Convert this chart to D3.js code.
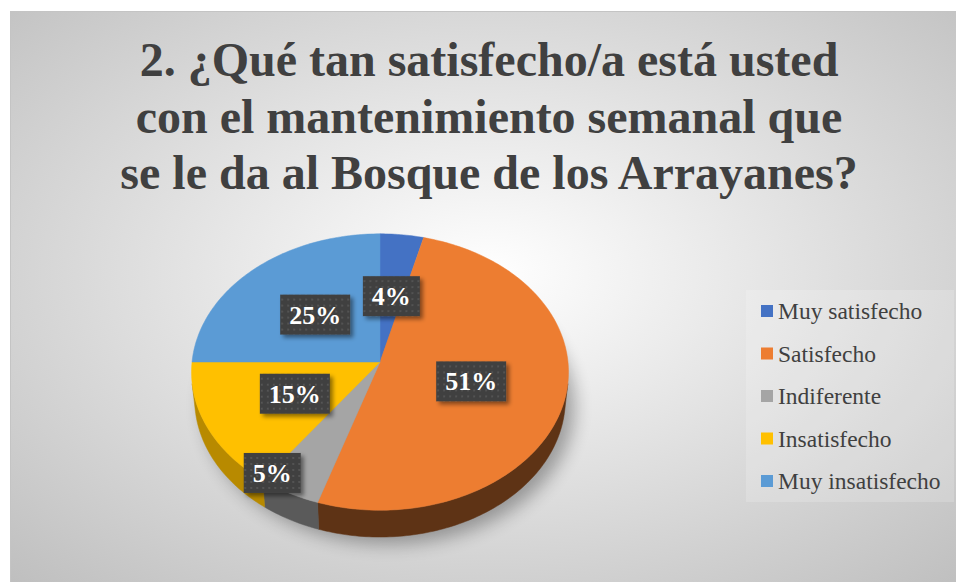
<!DOCTYPE html>
<html lang="es">
<head>
<meta charset="UTF-8">
<title>Mantenimiento semanal - Bosque de los Arrayanes</title>
<script src="https://d3js.org/d3.v7.min.js"></script>
<style>
  body { margin: 0; background: #fff; }
  svg { display: block; }
</style>
</head>
<body>
<svg width="956" height="582"></svg>
<script>
// data
const categories = ["Muy satisfecho", "Satisfecho", "Indiferente", "Insatisfecho", "Muy insatisfecho"];
const values = [4, 51, 5, 15, 25];
const titleLines = [
  "2. ¿Qué tan satisfecho/a está usted",
  "con el mantenimiento semanal que",
  "se le da al Bosque de los Arrayanes?"
];
const topColors = ["#4472c4", "#ed7d31", "#a5a5a5", "#ffc000", "#5b9bd5"];
const sideColors = ["#263f6b", "#5e3315", "#5a5a5a", "#b88a00", "#335a7c"];

const svg = d3.select("svg");
const width = +svg.attr("width");
const height = +svg.attr("height");
const defs = svg.append("defs");
const serif = "'Liberation Serif', 'Times New Roman', serif";

// background: radial grey gradient + thin border
const bg = defs.append("radialGradient").attr("id", "bg")
  .attr("cx", "50%").attr("cy", "45%").attr("r", "75%");
bg.append("stop").attr("offset", "0%").attr("stop-color", "#ffffff");
bg.append("stop").attr("offset", "100%").attr("stop-color", "#bdbdbd");

svg.append("rect")
  .attr("x", 10.5).attr("y", 11.5)
  .attr("width", width).attr("height", height)
  .attr("fill", "url(#bg)")
  .attr("stroke", "#c4c4c4");

// filters
const blur = defs.append("filter").attr("id", "pieShadow")
  .attr("x", "-20%").attr("y", "-20%").attr("width", "140%").attr("height", "140%");
blur.append("feGaussianBlur").attr("stdDeviation", 9);

const drop = defs.append("filter").attr("id", "labelShadow")
  .attr("x", "-20%").attr("y", "-20%").attr("width", "150%").attr("height", "160%");
drop.append("feDropShadow").attr("dx", 3).attr("dy", 3).attr("stdDeviation", 2)
  .attr("flood-color", "#000").attr("flood-opacity", 0.45);

const dots = defs.append("pattern").attr("id", "dots")
  .attr("width", 6).attr("height", 6).attr("patternUnits", "userSpaceOnUse");
dots.append("rect").attr("width", 6).attr("height", 6).attr("fill", "#404040");
dots.append("circle").attr("cx", 3).attr("cy", 3).attr("r", 0.9).attr("fill", "#5c5c5c");

// title
svg.append("g").selectAll("text")
  .data(titleLines)
  .join("text")
  .attr("x", 489)
  .attr("y", (d, i) => 76 + i * 56.5)
  .attr("text-anchor", "middle")
  .attr("font-family", serif)
  .attr("font-weight", "bold")
  .attr("font-size", 48)
  .attr("fill", "#404040")
  .text(d => d);

// 3D pie: perspective projection of a tilted disc
const cx = 380, cy = 362;
const tilt = 47 * Math.PI / 180;
const sinA = Math.sin(tilt), cosA = Math.cos(tilt);
const D = 9.4, f = 1767, depth = 0.217;

function proj(theta, r, h) {
  const X = r * Math.sin(theta);
  const Z = -r * Math.cos(theta);
  const H = -h * depth;
  const yc = Z * sinA - H * cosA;
  const dc = D - H * sinA - Z * cosA;
  return [cx + f * X / dc, cy + f * yc / dc];
}

function arcPts(a0, a1, r, h) {
  const n = Math.max(2, Math.ceil((a1 - a0) / (Math.PI / 180)));
  return d3.range(n + 1).map(i => proj(a0 + (a1 - a0) * i / n, r, h));
}

const line = d3.line();
const pie = d3.pie().sort(null).value(d => d);
const arcs = pie(values);

// soft shadow under the pie
const outline = arcPts(0, 2 * Math.PI, 1, 1);
svg.append("path")
  .attr("d", line(outline) + "Z")
  .attr("transform", "translate(9,7)")
  .attr("fill", "#000")
  .attr("opacity", 0.32)
  .attr("filter", "url(#pieShadow)");

const pieG = svg.append("g");

// side walls (only where facing the viewer)
const visLo = Math.acos(-1 / (D * cosA));
const visHi = 2 * Math.PI - visLo;
arcs.forEach((a, i) => {
  const s0 = Math.max(a.startAngle, visLo);
  const s1 = Math.min(a.endAngle, visHi);
  if (s1 <= s0) return;
  const pts = arcPts(s0, s1, 1, 0).concat(arcPts(s0, s1, 1, 1).reverse());
  pieG.append("path")
    .attr("d", line(pts) + "Z")
    .attr("fill", sideColors[i])
    .attr("stroke", sideColors[i])
    .attr("stroke-width", 0.5);
});

// top faces
arcs.forEach((a, i) => {
  const pts = [proj(0, 0, 0)].concat(arcPts(a.startAngle, a.endAngle, 1, 0));
  pieG.append("path")
    .attr("d", line(pts) + "Z")
    .attr("fill", topColors[i])
    .attr("stroke", topColors[i])
    .attr("stroke-width", 0.5);
});

// data labels
const fmt = d => Math.round(d / d3.sum(values) * 100) + "%";
const labelG = svg.append("g");
arcs.forEach((a, i) => {
  const mid = (a.startAngle + a.endAngle) / 2;
  const g = labelG.append("g");
  const t = g.append("text")
    .attr("text-anchor", "middle")
    .attr("dy", "0.35em")
    .attr("font-family", serif)
    .attr("font-weight", "bold")
    .attr("font-size", 26)
    .attr("fill", "#fff")
    .text(fmt(a.value));
  const bb = t.node().getBBox();
  const w = bb.width + 18, h = 40;
  let p;
  // narrow slice at the front: label sits on the rim (best fit)
  if (a.value <= 5 && Math.cos(mid) < 0) {
    const e = proj(mid, 1, 0);
    p = [e[0] - w / 2 + 12, e[1] - h / 2];
  } else {
    p = proj(mid, 0.5, 0);
  }
  g.attr("transform", `translate(${p[0]},${p[1]})`);
  g.insert("rect", "text")
    .attr("x", -w / 2).attr("y", -h / 2)
    .attr("width", w).attr("height", h)
    .attr("fill", "url(#dots)")
    .attr("filter", "url(#labelShadow)");
});

// legend
svg.append("rect")
  .attr("x", 746).attr("y", 290)
  .attr("width", 208).attr("height", 212)
  .attr("fill", "#ffffff").attr("opacity", 0.18);

const ly = d3.scaleLinear().domain([0, categories.length - 1]).range([311, 481]);
const leg = svg.append("g").selectAll("g")
  .data(categories)
  .join("g")
  .attr("transform", (d, i) => `translate(761,${ly(i)})`);
leg.append("rect")
  .attr("x", 0).attr("y", -6)
  .attr("width", 12).attr("height", 12)
  .attr("fill", (d, i) => topColors[i]);
leg.append("text")
  .attr("x", 17)
  .attr("dy", "0.35em")
  .attr("font-family", serif)
  .attr("font-size", 23.5)
  .attr("fill", "#404040")
  .text(d => d);
</script>
</body>
</html>
